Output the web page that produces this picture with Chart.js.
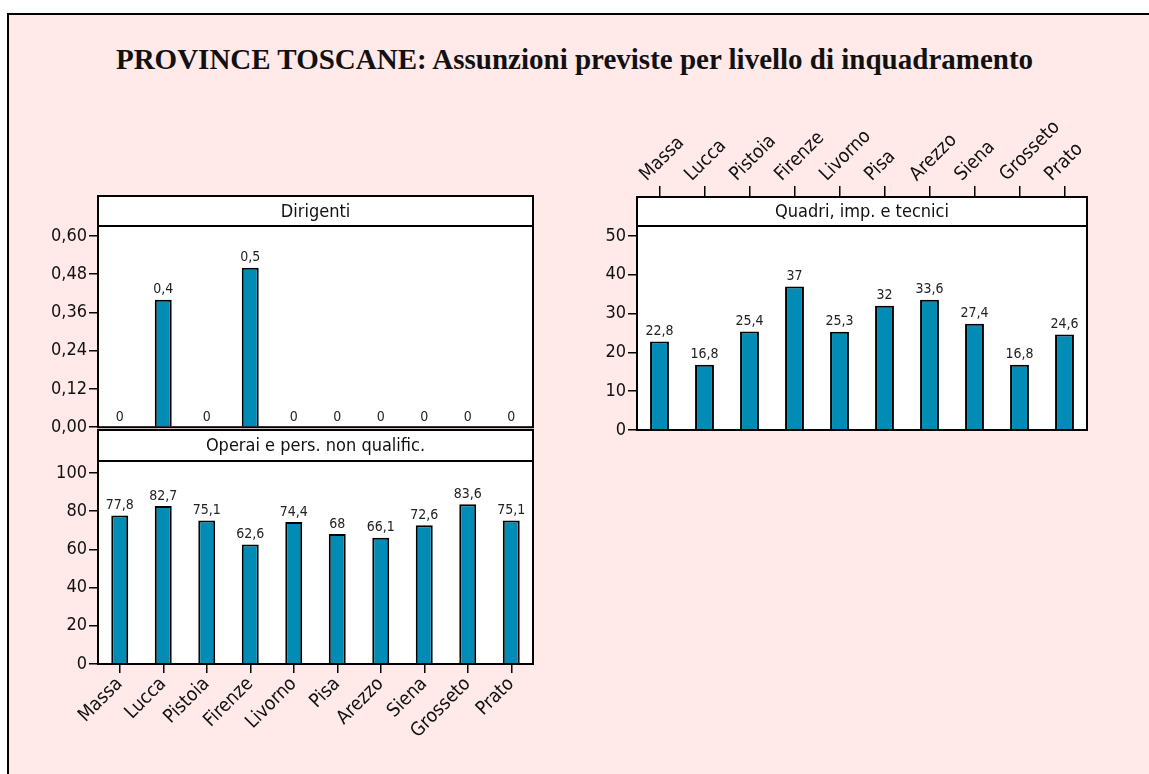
<!DOCTYPE html>
<html>
<head>
<meta charset="utf-8">
<script src="https://cdn.jsdelivr.net/npm/chart.js@4/dist/chart.umd.min.js"></script>
<style>
  html, body { margin:0; padding:0; background:#fff; }
  body { width:1149px; height:774px; position:relative; overflow:hidden; }
  #frame { position:absolute; left:7px; top:13px; width:1160px; height:800px; background:#FFE9E9; border:2px solid #000; box-sizing:border-box; }
  #title { position:absolute; left:0; top:42px; width:1149px; text-align:center; font-family:"Liberation Serif", serif; font-weight:bold; font-size:29px; line-height:34px; color:#111; }
  canvas { position:absolute; }
</style>
</head>
<body>
<div id="frame"></div>
<div id="title">PROVINCE TOSCANE: Assunzioni previste per livello di inquadramento</div>
<canvas id="c1" style="left:20px;top:180px;width:530px;height:260px"></canvas>
<canvas id="c2" style="left:20px;top:420px;width:530px;height:354px"></canvas>
<canvas id="c3" style="left:570px;top:60px;width:540px;height:390px"></canvas>
<script>
const categories = ["Massa","Lucca","Pistoia","Firenze","Livorno","Pisa","Arezzo","Siena","Grosseto","Prato"];
const dirigenti = [0, 0.4, 0, 0.5, 0, 0, 0, 0, 0, 0];
const operai = [77.8, 82.7, 75.1, 62.6, 74.4, 68, 66.1, 72.6, 83.6, 75.1];
const quadri = [22.8, 16.8, 25.4, 37, 25.3, 32, 33.6, 27.4, 16.8, 24.6];
const dirigentiTicks = [0, 0.12, 0.24, 0.36, 0.48, 0.60];
const operaiTicks = [0, 20, 40, 60, 80, 100];
const quadriTicks = [0, 10, 20, 30, 40, 50];

const FONT = '"Liberation Sans Narrow", "DejaVu Sans Condensed", sans-serif';
const BAR = '#008CB4';

const panelPlugin = {
  id: 'panel',
  beforeDraw(chart) {
    const a = chart.chartArea, ctx = chart.ctx;
    ctx.save(); ctx.fillStyle = '#fff';
    ctx.fillRect(a.left, a.top, a.right - a.left, a.bottom - a.top);
    ctx.restore();
  },
  afterDraw(chart, args, opts) {
    const a = chart.chartArea, ctx = chart.ctx;
    ctx.save();
    ctx.lineWidth = 2; ctx.strokeStyle = '#000';
    ctx.strokeRect(a.left, a.top, a.right - a.left, a.bottom - a.top);
    const h = opts.h;
    ctx.fillStyle = '#fff';
    ctx.fillRect(a.left, a.top - h, a.right - a.left, h);
    ctx.strokeRect(a.left, a.top - h, a.right - a.left, h);
    ctx.fillStyle = '#111';
    ctx.font = '18px ' + FONT;
    ctx.textAlign = 'center'; ctx.textBaseline = 'middle';
    ctx.fillText(opts.text, (a.left + a.right) / 2, a.top - h / 2 + 1);
    ctx.restore();
  },
  afterDatasetsDraw(chart) {
    const ctx = chart.ctx;
    const ds = chart.data.datasets[0];
    const meta = chart.getDatasetMeta(0);
    ctx.save();
    ctx.fillStyle = '#222';
    ctx.font = '14px ' + FONT;
    ctx.textAlign = 'center'; ctx.textBaseline = 'bottom';
    meta.data.forEach((bar, i) => {
      ctx.fillText(String(ds.data[i]).replace('.', ','), bar.x, bar.y - 3);
    });
    ctx.restore();
  }
};

function makeChart(id, values, ticks, max, fmt, cfg) {
  const yAxis = {
    min: 0, max: max,
    afterBuildTicks(s) { s.ticks = ticks.map(v => ({ value: v })); },
    afterFit(s) { s.width = cfg.yWidth; },
    ticks: { color: '#111', font: { family: FONT, size: 18 }, padding: 2, callback: v => fmt(v) },
    grid: { display: true, drawOnChartArea: false, drawTicks: true, tickLength: 9, color: '#000', lineWidth: 1.5 },
    border: { display: true, color: '#000', width: 2 }
  };
  const xAxis = Object.assign({
    type: 'category', offset: true,
    grid: { display: true, offset: false, drawOnChartArea: false, drawTicks: true, tickLength: cfg.xTick || 9, color: '#000', lineWidth: 1.5 },
    border: { display: false },
    ticks: { color: '#111', font: { family: FONT, size: 19 }, minRotation: 45, maxRotation: 45, autoSkip: false, padding: 0 }
  }, cfg.x);
  return new Chart(document.getElementById(id), {
    type: 'bar',
    data: { labels: categories, datasets: [{ data: values, backgroundColor: BAR, borderColor: '#000', borderWidth: 2, barPercentage: cfg.bp, categoryPercentage: 1 }] },
    options: {
      responsive: false, animation: false, devicePixelRatio: 1,
      layout: { padding: cfg.pad },
      plugins: { legend: { display: false }, tooltip: { enabled: false }, title: { display: false }, panel: { text: cfg.header, h: cfg.h } },
      scales: { x: xAxis, y: yAxis }
    },
    plugins: [panelPlugin]
  });
}

function setSize(id, w, h) { const c = document.getElementById(id); c.width = w; c.height = h; }
setSize('c1', 530, 260); setSize('c2', 530, 354); setSize('c3', 540, 390);

makeChart('c1', dirigenti, dirigentiTicks, 0.60 * 204 / 194, v => v.toFixed(2).replace('.', ','), {
  yWidth: 78, bp: 0.39, header: 'Dirigenti', h: 30,
  pad: { top: 46, right: 17, bottom: 10, left: 0 },
  x: { display: false }
});
makeChart('c2', operai, operaiTicks, 100 * 203 / 191, v => String(v), {
  yWidth: 78, bp: 0.39, header: 'Operai e pers. non qualific.', h: 31,
  pad: { top: 41, right: 17, bottom: 0, left: 0 },
  x: { position: 'bottom', afterFit(s) { s.height = 110; } }
});
makeChart('c3', quadri, quadriTicks, 50 * 204 / 194, v => String(v), {
  yWidth: 67, bp: 0.42, header: 'Quadri, imp. e tecnici', h: 29, xTick: 40,
  pad: { top: 0, right: 23, bottom: 20, left: 0 },
  x: { position: 'top', afterFit(s) { s.height = 166; } }
});
</script>
</body>
</html>
